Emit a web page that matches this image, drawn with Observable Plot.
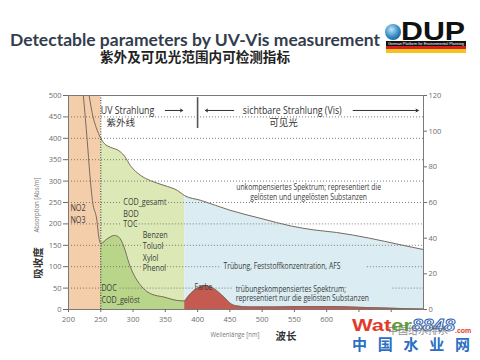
<!DOCTYPE html>
<html><head><meta charset="utf-8">
<script src="https://cdn.jsdelivr.net/npm/d3@7"></script>
<script src="https://cdn.jsdelivr.net/npm/@observablehq/plot@0.6"></script>
<style>
body{margin:0;background:#fff;}
#wrap{position:relative;width:480px;height:360px;overflow:hidden;}
#chart{position:absolute;left:0;top:0;}
#over{position:absolute;left:0;top:0;}
</style></head><body>
<div id="wrap">
<div id="chart"></div>
<svg id="over" width="480" height="360" xmlns="http://www.w3.org/2000/svg">
 <defs>
  <radialGradient id="globe" cx="0.4" cy="0.35" r="0.7">
   <stop offset="0" stop-color="#bfe6f5"/><stop offset="0.6" stop-color="#3d93c9"/><stop offset="1" stop-color="#1d5f93"/>
  </radialGradient>
 </defs>
 <text x="10" y="45.5" font-family="Lato, 'Open Sans', sans-serif" font-weight="700" font-size="17.5" fill="#333d4d" textLength="370" lengthAdjust="spacingAndGlyphs">Detectable parameters by UV-Vis measurement</text>
 <text x="100" y="62" font-family="'Noto Sans CJK SC', sans-serif" font-weight="700" font-size="13.5" fill="#222" textLength="190" lengthAdjust="spacingAndGlyphs">紫外及可见光范围内可检测指标</text>
 <circle cx="393" cy="32" r="8" fill="url(#globe)"/>
 <text x="401" y="40" font-family="'Liberation Sans', Arial, sans-serif" font-weight="700" font-size="25" fill="#111" textLength="64" lengthAdjust="spacingAndGlyphs">DUP</text>
 <rect x="386" y="41" width="80" height="5" fill="#111"/>
 <text x="388" y="44.8" font-family="'Liberation Sans', sans-serif" font-size="3.4" fill="#fff" textLength="76" lengthAdjust="spacingAndGlyphs">German Platform for Environmental Planning</text>
 <rect x="386" y="46" width="80" height="3" fill="#d42020"/>
 <rect x="386" y="49" width="80" height="4" fill="#f2c21e"/>
 <text transform="translate(39,205) rotate(-90)" text-anchor="middle" font-family="'Open Sans',sans-serif" font-size="6.5" fill="#777" textLength="55" lengthAdjust="spacingAndGlyphs">Absorption [Abs/m]</text>
 <text transform="translate(42,263) rotate(-90)" text-anchor="middle" font-family="'Noto Sans CJK SC',sans-serif" font-weight="700" font-size="10.5" fill="#333">吸收度</text>
 <text x="235" y="337" text-anchor="middle" font-family="'Open Sans',sans-serif" font-size="6.5" fill="#777" textLength="49" lengthAdjust="spacingAndGlyphs">Wellenlänge [nm]</text>
 <text x="286" y="339.5" text-anchor="middle" font-family="'Noto Sans CJK SC',sans-serif" font-weight="700" font-size="10.5" fill="#333">波长</text>
 <g font-family="'Liberation Sans', Arial, sans-serif" font-weight="700">
  <text x="352" y="331" font-size="17" textLength="60" lengthAdjust="spacingAndGlyphs"><tspan fill="#e23b2a">Wat</tspan><tspan fill="#5da531">er</tspan></text>
  <text x="412" y="331" font-size="16" font-style="italic" fill="#fff" stroke="#2a5cb0" stroke-width="0.9" textLength="43" lengthAdjust="spacingAndGlyphs">8848</text>
  <text x="455" y="333" font-size="7" fill="#e23b2a">.com</text>
  <text x="352" y="350" font-family="'Noto Sans CJK SC',sans-serif" font-size="15" fill="#2a6fc4" textLength="118" lengthAdjust="spacing">中国水业网</text>
  <text x="388" y="334" font-family="'Noto Sans CJK SC',sans-serif" font-weight="400" font-size="10" fill="#777" opacity="0.85">中国给水排水</text>
 </g>
</svg>
</div>
<script>
// ---- data ----
const topWavelength = [232,238,243,250,256,265,278,286,296,312,327,348,369,380,405,450,500,545,580,615,665,715,750];
const topAbsorption = [500,450,425,400,387,379,371,360,336,313,301,290,278,266,255,232,212,195,186,180,167,151,140];

const dissolvedWavelength = [223,229,233,237,244,247,250,260,271,278,286,294,302,312,327,348,369,380,390,400,411,426,441,452,462,480,520,560,600,650,700,750];
const dissolvedAbsorption = [500,395,317,255,208,169,154,165,173,169,146,107,79,56,37,29,21,20,38,50,56,48,29,13,8,6,6,7,7,5,3,1];

const regionEdges = [200, 250, 380, 750];   // NO-band | UV parameters | visible range
const rangeDivider = 400;                   // UV / Vis divider

const xTicks = [200,250,300,350,400,450,500,550,600,650,700];
const xLabelled = [200,250,300,350,400,450,500,550,600];
const leftTicks = [0,50,100,150,200,250,300,350,400,450,500];
const rightTicks = [0,20,40,60,80,100,120];

const gridLevel = [450,400,350,300,250,250,200,200,150,150,100,100,100,50,50,50,50];
const gridFrom  = [200,200,200,200,200,355,200,305,200,347,200,349,663,200,280,424,703];
const gridTo    = [750,750,750,750,283,750,283,750,313,750,313,437,750,250,393,456,750];

const paramText = ["NO2","NO3","COD_gesamt","BOD","TOC","Benzen","Toluol","Xylol","Phenol","DOC","COD_gelöst"];
const paramWl   = [203,203,285,285,285,315,315,315,315,251,251];
const paramAbs  = [238,210,250,224,199,173,147,121,96,49,23];

const centredText = ["unkompensiertes Spektrum; representiert die","gelösten und ungelösten Substanzen","Farbe"];
const centredWl   = [572,572,409];
const centredAbs  = [285,262,51];
const leftText = ["Trübung, Feststoffkonzentration, AFS","trübungskompensiertes Spektrum;","representiert nur die gelösten Substanzen"];
const leftWl   = [440,459,459];
const leftAbs  = [100,47,26];

const headText = ["UV Strahlung","sichtbare Strahlung (Vis)"];
const headWl = [250,470];
const headAbs = [465,465];
const cnUvText = "紫外线", cnUvWl = 259;
const cnVisText = "可见光", cnVisWl = 533;
const cnAbs = 437;

const arrowFrom = [350,456,641];
const arrowTo   = [377,412,742];
const arrowAbs  = 465;
const dividerTop = 495, dividerBottom = 423;

// ---- build ----
const topCurve = topWavelength.map((w,i)=>({w, a: topAbsorption[i]}));
const dissCurve = dissolvedWavelength.map((w,i)=>({w, a: dissolvedAbsorption[i]}));
const within = (lo,hi) => d => d.w >= lo && d.w <= hi;
const grid = gridLevel.map((v,i)=>({v, x1: gridFrom[i], x2: gridTo[i]}));
const params = paramText.map((t,i)=>({t, w: paramWl[i], a: paramAbs[i]}));
const centred = centredText.map((t,i)=>({t, w: centredWl[i], a: centredAbs[i]}));
const lefts = leftText.map((t,i)=>({t, w: leftWl[i], a: leftAbs[i]}));
const heads = headText.map((t,i)=>({t, w: headWl[i], a: headAbs[i]}));
const arrows = arrowFrom.map((f,i)=>({x1: f, x2: arrowTo[i], y: arrowAbs}));

const sans = "'Open Sans',sans-serif";
const cjk = "'Noto Sans CJK SC',sans-serif";
const lineColor = "#7a6b5e";

const chart = Plot.plot({
  width: 480, height: 360,
  marginLeft: 68, marginRight: 57, marginTop: 95, marginBottom: 51,
  x: {domain: [regionEdges[0], regionEdges[3]]},
  y: {domain: [0, 500]},
  style: {fontFamily: sans, fontSize: "7.5px", background: "transparent", overflow: "visible"},
  marks: [
    Plot.rect([0], {x1: regionEdges[0], x2: regionEdges[1], y1: 0, y2: 500, fill: "#f4cdaa"}),
    Plot.areaY(topCurve.filter(within(regionEdges[1], regionEdges[2])), {x: "w", y: "a", fill: "#dce9b6", curve: "monotone-x"}),
    Plot.areaY(topCurve.filter(within(regionEdges[2], regionEdges[3])), {x: "w", y: "a", fill: "#dbedf2", curve: "monotone-x"}),
    Plot.areaY(dissCurve.filter(within(regionEdges[1], regionEdges[2])), {x: "w", y: "a", fill: "#b9d58a", curve: "monotone-x"}),
    Plot.areaY(dissCurve.filter(within(regionEdges[2], regionEdges[3])), {x: "w", y: "a", fill: "#c55a50", curve: "monotone-x"}),
    Plot.ruleY(grid, {y: "v", x1: "x1", x2: "x2", stroke: "#6f6f6f", strokeDasharray: "1,2", strokeWidth: 0.9}),
    Plot.ruleX([regionEdges[1]], {y1: 0, y2: 500, stroke: "#333", strokeDasharray: "1,1.6", strokeWidth: 1.1}),
    Plot.line(topCurve, {x: "w", y: "a", stroke: lineColor, strokeWidth: 1, curve: "monotone-x"}),
    Plot.line(dissCurve, {x: "w", y: "a", stroke: lineColor, strokeWidth: 1, curve: "monotone-x"}),
    Plot.frame({stroke: "#7a7a7a", strokeWidth: 1}),
    Plot.axisX({ticks: xTicks, tickFormat: d => xLabelled.includes(d) ? String(d) : "", tickSize: 3, tickPadding: 4, label: null, color: "#6d6d6d", fontSize: 7.5}),
    Plot.axisY({ticks: leftTicks, tickSize: 5, tickPadding: 2, label: null, color: "#6d6d6d", fontSize: 7.5}),
    Plot.axisY({anchor: "right", ticks: rightTicks.map(v => v * 500 / 120), tickFormat: d => Math.round(d * 120 / 500), tickSize: 3, tickPadding: 2, label: null, color: "#6d6d6d", fontSize: 7.5}),
    Plot.ruleX([rangeDivider], {y1: dividerBottom, y2: dividerTop, stroke: "#555", strokeWidth: 1.6}),
    Plot.arrow(arrows, {x1: "x1", x2: "x2", y1: "y", y2: "y", stroke: "#333", strokeWidth: 1, headLength: 4}),
    Plot.text(params, {x: "w", y: "a", text: "t", textAnchor: "start", fontSize: 9, fill: "#3a3a3a"}),
    Plot.text(centred, {x: "w", y: "a", text: "t", textAnchor: "middle", fontSize: 8.5, fill: "#3a3a3a"}),
    Plot.text(lefts, {x: "w", y: "a", text: "t", textAnchor: "start", fontSize: 8.5, fill: "#3a3a3a"}),
    Plot.text(heads, {x: "w", y: "a", text: "t", textAnchor: "start", fontSize: 11, fill: "#333"}),
    Plot.text([cnUvText], {x: cnUvWl, y: cnAbs, text: d => d, textAnchor: "start", fontSize: 9.5, fill: "#333", fontFamily: cjk}),
    Plot.text([cnVisText], {x: cnVisWl, y: cnAbs, text: d => d, textAnchor: "middle", fontSize: 9.5, fill: "#333", fontFamily: cjk})
  ]
});
document.getElementById("chart").appendChild(chart);

// narrow the annotation lettering (the reference uses a condensed face)
const labelTexts = Array.from(chart.querySelectorAll('g[aria-label="text"] text'))
  .filter(t => !/[\u3400-\u9fff]/.test(t.textContent));
const refEl = labelTexts.find(t => t.textContent.startsWith("Trübung"));
const squeeze = refEl ? Math.min(1, 117 / refEl.getComputedTextLength()) : 0.85;
labelTexts.forEach(t => {
  const len = t.getComputedTextLength();
  if (len > 0) {
    t.setAttribute("textLength", (len * squeeze).toFixed(1));
    t.setAttribute("lengthAdjust", "spacingAndGlyphs");
  }
});
</script>
</body></html>
